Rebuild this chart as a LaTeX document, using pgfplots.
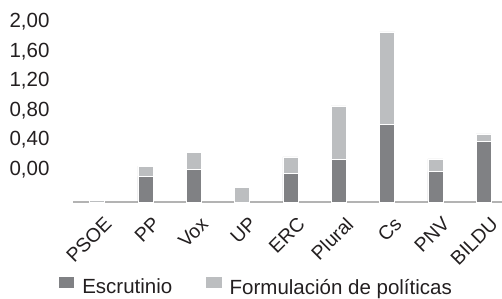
\documentclass[border=0pt]{standalone}
\usepackage{pgfplots}
\pgfplotsset{compat=1.18}
\usepackage{fontspec}
\setmainfont{Liberation Sans}
\definecolor{dark}{HTML}{808184}
\definecolor{light}{HTML}{BCBEC0}
\definecolor{axisgray}{HTML}{B3B3B3}
\definecolor{txt}{HTML}{231F20}
\begin{document}
\begin{tikzpicture}
\useasboundingbox (-73pt,-95.7pt) rectangle (429pt,202.3pt);
\begin{axis}[
  at={(0,0)}, anchor=south west,
  scale only axis, width=430pt, height=185pt,
  xmin=-0.5, xmax=8.4, ymin=0, ymax=2.5,
  ybar stacked, bar width=15pt,
  axis y line*=left,
  y axis line style={draw=none},
  axis x line*=bottom,
  x axis line style={axisgray, line width=2pt},
  major tick length=0pt,
  xtick={0,...,8},
  xticklabels={PSOE,PP,Vox,UP,ERC,Plural,Cs,PNV,BILDU},
  xticklabel style={xshift=6pt, yshift=-12pt, rotate=45, anchor=north east, font=\fontsize{19.5}{19.5}\selectfont, text=txt, inner sep=1pt},
  ytick={0.44,0.84,1.24,1.64,2.04,2.44},
  yticklabels={{0,00},{0,40},{0,80},{1,20},{1,60},{2,00}},
  yticklabel style={font=\fontsize{20.5}{20.5}\selectfont, text=txt, anchor=east, xshift=-20pt},
  /pgf/number format/assume math mode=true,
  clip=false,
  legend columns=2,
  legend style={at={(0,0)}, anchor=north west, xshift=-15.5pt, yshift=-73.5pt, draw=none, fill=none,
    font=\fontsize{20.5}{20.5}\selectfont, text=txt, inner sep=0pt,
    /tikz/every even column/.append style={column sep=31pt}},
  legend image code/.code={\fill[#1] (0pt,-1.3pt) rectangle (16.5pt,11pt); \path (22pt,0pt);},
]
\addplot[fill=dark, draw=white, line width=0.6pt] coordinates {(0,0) (1,0.349) (2,0.449) (3,0) (4,0.389) (5,0.578) (6,1.051) (7,0.416) (8,0.822)};
\addplot[fill=light, draw=white, line width=0.4pt] coordinates {(0,0.03) (1,0.14) (2,0.229) (3,0.205) (4,0.226) (5,0.726) (6,1.253) (7,0.172) (8,0.104)};
\legend{Escrutinio, Formulación de políticas}
\end{axis}
\end{tikzpicture}
\end{document}
